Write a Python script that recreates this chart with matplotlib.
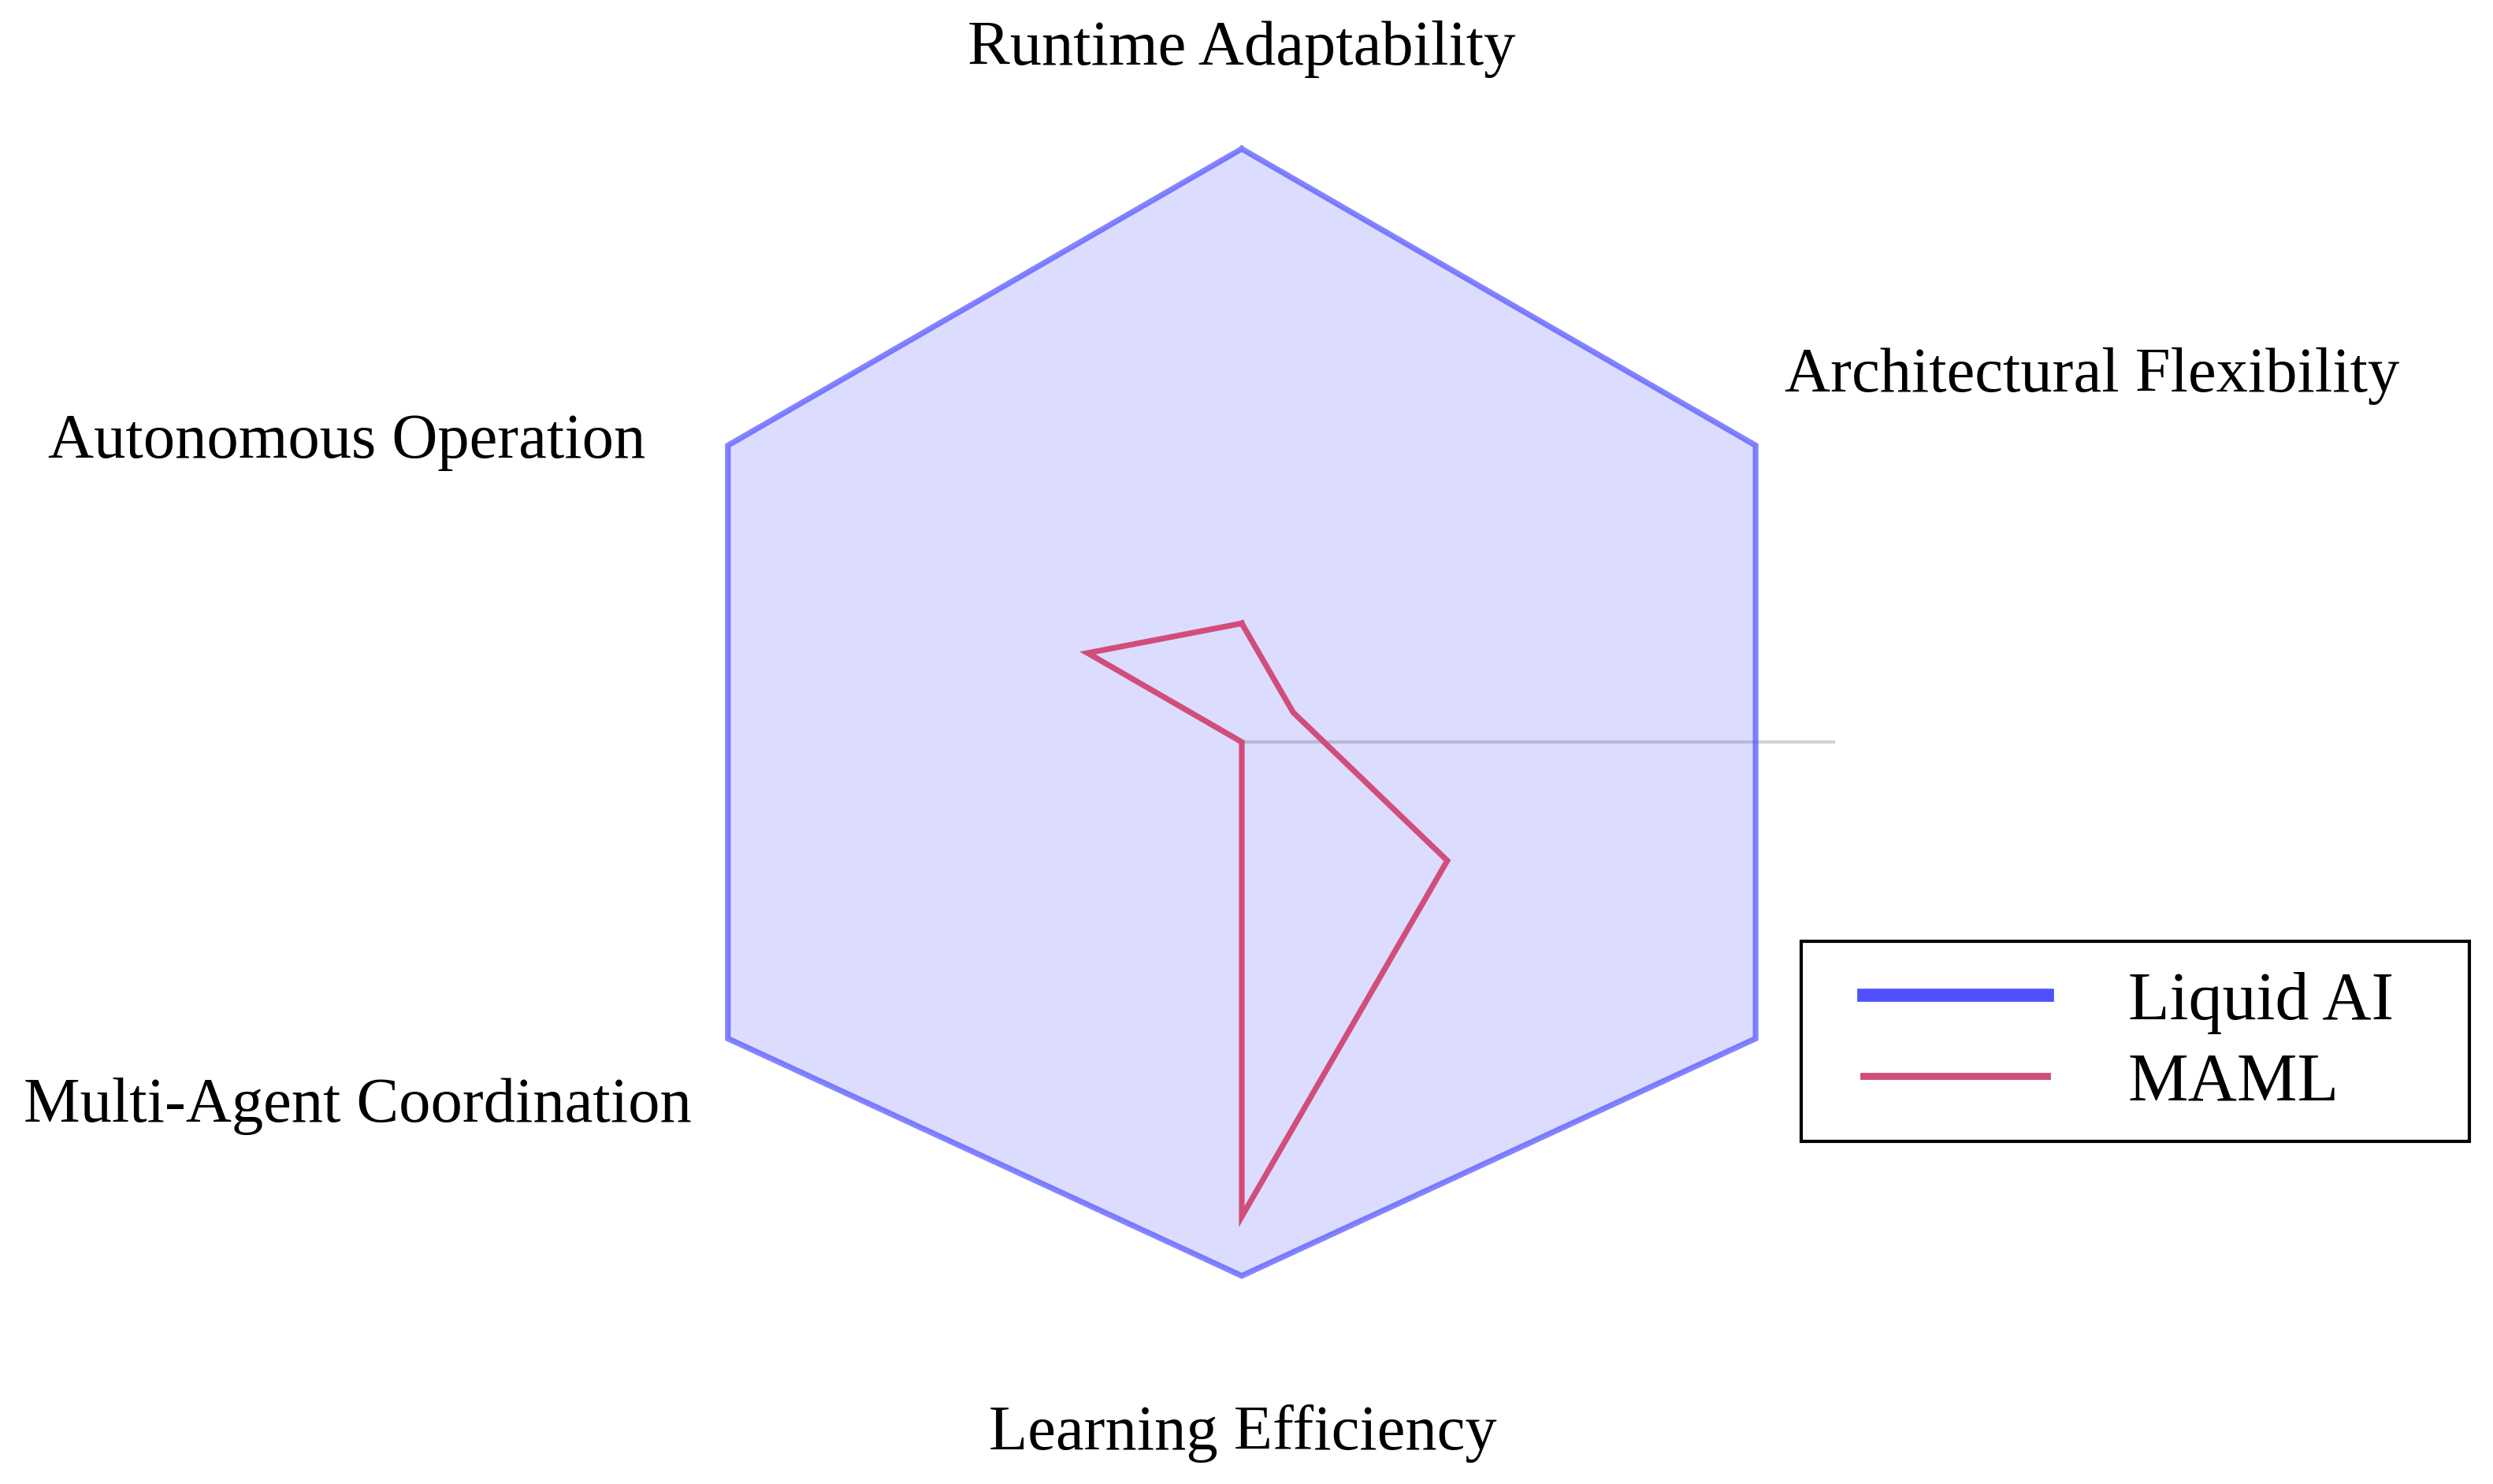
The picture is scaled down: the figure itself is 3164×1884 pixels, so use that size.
import numpy as np
import matplotlib
matplotlib.use("Agg")
import matplotlib.pyplot as plt
from matplotlib.lines import Line2D
from matplotlib.patches import Rectangle

plt.rcParams['font.family'] = ['Liberation Serif', 'DejaVu Serif']

# categories, clockwise from the top (the third one sits behind the legend)
categories = ["Runtime Adaptability", "Architectural Flexibility", "Scalability",
              "Learning Efficiency", "Multi-Agent Coordination", "Autonomous Operation"]
liquid_ai = [1.0, 1.0, 1.0, 0.9, 1.0, 1.0]
maml = [0.2, 0.1, 0.4, 0.8, 0.0, 0.3]
series_names = ["Liquid AI", "MAML"]

liquid_color = "#5050ff"
maml_color = "#d14d7a"

n = len(categories)
angles = np.linspace(0, 2 * np.pi, n, endpoint=False).tolist()
angles_c = angles + angles[:1]
liquid_c = liquid_ai + liquid_ai[:1]
maml_c = maml + maml[:1]

fig = plt.figure(figsize=(15.82, 9.42), dpi=200)
ax = fig.add_axes([0.2601, 0.1003, 0.476, 0.7994], projection="polar")
ax.set_theta_offset(np.pi / 2)
ax.set_theta_direction(-1)
ax.set_ylim(0, 1)

# faint radial line pointing east
ax.plot([np.pi / 2, np.pi / 2], [0, 1], color="#707070", alpha=0.3, lw=1.5, zorder=1)

ax.fill(angles_c, liquid_c, color=liquid_color, alpha=0.2, lw=0, zorder=2, clip_on=False)
ax.plot(angles_c, liquid_c, color=liquid_color, alpha=0.7, lw=2.6,
        solid_joinstyle="miter", zorder=3, clip_on=False)
ax.plot(angles_c, maml_c, color=maml_color, lw=2.6, solid_joinstyle="miter", zorder=4)

ax.set_xticks([])
ax.set_yticks([])
ax.grid(False)
ax.spines["polar"].set_visible(False)
ax.patch.set_visible(False)

# label placement (axes fraction, baseline); None = covered by the legend
label_xy = [(0.5, 1.071), (1.2165, 0.7955), None,
            (0.501, -0.0963), (-0.245, 0.18), (-0.2543, 0.7397)]
for name, pos in zip(categories, label_xy):
    if pos is None:
        continue
    ax.text(pos[0], pos[1], name, transform=ax.transAxes, ha="center", va="baseline",
            fontsize=29, color="black")

# legend box
fig.patches.append(Rectangle((0.7225, 0.2309), 0.268, 0.1348, transform=fig.transFigure,
                             facecolor="white", edgecolor="black", lw=1.5, zorder=1))
handles = [Line2D([], [], color=liquid_color, lw=6),
           Line2D([], [], color=maml_color, lw=3.2)]
leg = fig.legend(handles, series_names, loc="upper left", bbox_to_anchor=(0.7475, 0.3455),
                 frameon=False, fontsize=31, handlelength=2.7, handletextpad=1.2,
                 borderpad=0, borderaxespad=0, labelspacing=0.27)
leg.set_zorder(5)

fig.savefig("out.png", dpi=200)
